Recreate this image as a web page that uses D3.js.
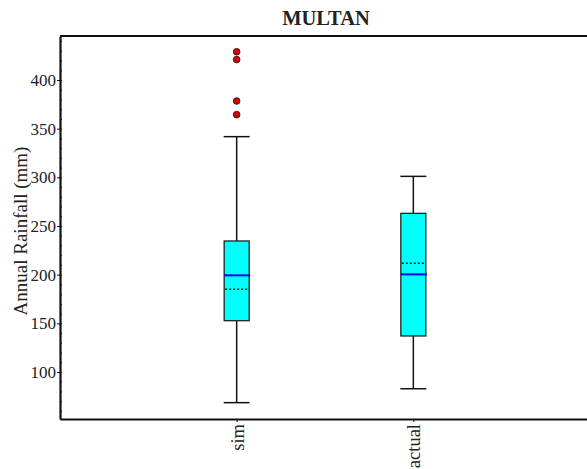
<!DOCTYPE html>
<html lang="en">
<head>
<meta charset="UTF-8">
<title>MULTAN</title>
<script src="https://d3js.org/d3.v7.min.js"></script>
<style>
  body { margin: 0; background: #fff; }
  text { font-family: "Liberation Serif", "Times New Roman", serif; fill: #222; }
  .axis path, .axis line { stroke: #111; }
</style>
</head>
<body>
<svg id="chart" width="587" height="469"></svg>
<script>
  // box statistics
  const groups   = ["sim", "actual"];
  const lowerW   = [68.5, 82.8];
  const q1       = [152.7, 137.0];
  const median   = [199.3, 200.3];
  const mean     = [185.0, 211.6];
  const q3       = [234.6, 263.0];
  const upperW   = [341.8, 301.0];
  const outliers = [[429, 421, 378.4, 364.4], []];
  const yTicks   = [100, 150, 200, 250, 300, 350, 400];

  const margin = { top: 36, right: -3, bottom: 50, left: 60 },
      width = 587 - margin.left - margin.right,
      height = 469 - margin.top - margin.bottom;

  const svg = d3.select("#chart");
  const g = svg.append("g").attr("transform", `translate(${margin.left},${margin.top})`);

  const x = d3.scalePoint().domain(groups).range([0, width]).padding(1);
  const y = d3.scaleLinear().domain([51.7, 445.2]).range([height, 0]);

  // minor ticks on the inside of the y axis
  g.append("g")
      .attr("class", "axis")
      .call(d3.axisRight(y).tickValues(d3.range(60, 441, 10)).tickSize(2).tickFormat(""))
      .call(s => s.select(".domain").remove())
      .selectAll("line").attr("stroke", "#777");

  // y axis
  g.append("g")
      .attr("class", "axis")
      .call(d3.axisLeft(y).tickValues(yTicks).tickSize(3).tickSizeOuter(0).tickPadding(1))
      .call(s => s.select(".domain").attr("stroke-width", 2.2))
      .call(s => s.selectAll("text").style("font-size", "17px"));

  // x axis
  g.append("g")
      .attr("class", "axis")
      .attr("transform", `translate(0,${height})`)
      .call(d3.axisBottom(x).tickSize(3).tickSizeOuter(0))
      .call(s => s.select(".domain").attr("stroke-width", 2.2))
      .call(s => s.selectAll("text")
          .style("font-size", "18.5px")
          .attr("transform", "rotate(-90)")
          .attr("text-anchor", "end")
          .attr("x", -5)
          .attr("y", 0)
          .attr("dy", "0.35em"));

  // top frame line
  g.append("line")
      .attr("x1", 0).attr("x2", width + 5)
      .attr("y1", 0).attr("y2", 0)
      .attr("stroke", "#111").attr("stroke-width", 2.2);

  const boxW = 25;
  const capW = 26;

  groups.forEach((name, i) => {
    const cx = x(name);
    const bg = g.append("g");

    // whiskers
    bg.append("line")
        .attr("x1", cx).attr("x2", cx)
        .attr("y1", y(upperW[i])).attr("y2", y(q3[i]))
        .attr("stroke", "#111").attr("stroke-width", 1.5);
    bg.append("line")
        .attr("x1", cx).attr("x2", cx)
        .attr("y1", y(q1[i])).attr("y2", y(lowerW[i]))
        .attr("stroke", "#111").attr("stroke-width", 1.5);
    [upperW[i], lowerW[i]].forEach(v => {
      bg.append("line")
          .attr("x1", cx - capW / 2).attr("x2", cx + capW / 2)
          .attr("y1", y(v)).attr("y2", y(v))
          .attr("stroke", "#111").attr("stroke-width", 1.5);
    });

    // box
    bg.append("rect")
        .attr("x", cx - boxW / 2)
        .attr("y", y(q3[i]))
        .attr("width", boxW)
        .attr("height", y(q1[i]) - y(q3[i]))
        .attr("fill", "#00ffff")
        .attr("stroke", "#222").attr("stroke-width", 1.3);

    // mean (dotted)
    bg.append("line")
        .attr("x1", cx - boxW / 2 + 1).attr("x2", cx + boxW / 2 - 1)
        .attr("y1", y(mean[i])).attr("y2", y(mean[i]))
        .attr("stroke", "#222").attr("stroke-width", 1.5)
        .attr("stroke-dasharray", "2,2");

    // median
    bg.append("line")
        .attr("x1", cx - boxW / 2).attr("x2", cx + boxW / 2 + 1)
        .attr("y1", y(median[i])).attr("y2", y(median[i]))
        .attr("stroke", "#0000ee").attr("stroke-width", 2);

    // outliers
    bg.selectAll("circle")
        .data(outliers[i])
        .join("circle")
        .attr("cx", cx)
        .attr("cy", d => y(d))
        .attr("r", 3.3)
        .attr("fill", "#dd0000")
        .attr("stroke", "#222").attr("stroke-width", 1);
  });

  // title
  svg.append("text")
      .attr("x", margin.left + x.range()[1] / 2 + 1)
      .attr("y", 25)
      .attr("text-anchor", "middle")
      .style("font-size", "20.5px")
      .style("font-weight", "bold")
      .text("MULTAN");

  // y label
  svg.append("text")
      .attr("transform", "translate(27,231) rotate(-90)")
      .attr("text-anchor", "middle")
      .style("font-size", "19px")
      .text("Annual Rainfall (mm)");
</script>
</body>
</html>
